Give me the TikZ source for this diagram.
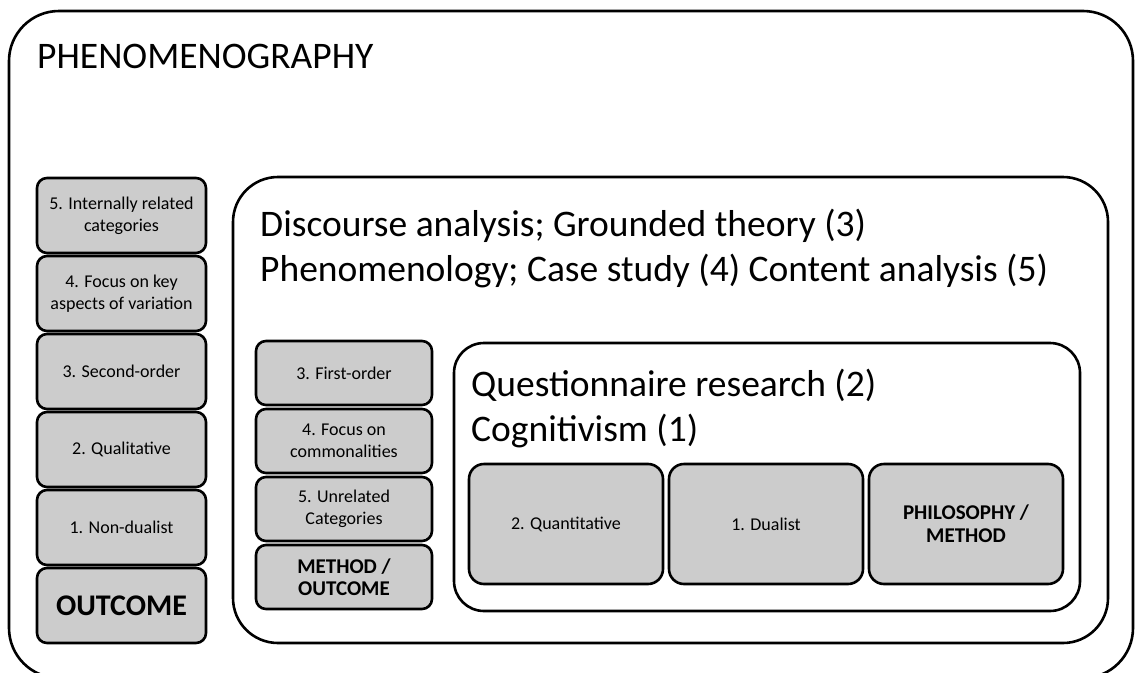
\documentclass[tikz,border=0pt]{standalone}
\usepackage{fontspec}
\setmainfont{Carlito}
\definecolor{boxgray}{RGB}{204,204,204}
\begin{document}
\begin{tikzpicture}[x=1pt,y=-1pt,
  cell/.style={draw=black, line width=2.6pt, fill=boxgray, rounded corners=10pt,
    align=center, font=\fontsize{18}{22}\selectfont, inner sep=2pt},
  leftcell/.style={cell, minimum width=169pt, minimum height=75pt},
  midcell/.style={cell, minimum width=176pt, minimum height=64pt},
  bigcell/.style={cell, rounded corners=15pt, minimum width=194pt, minimum height=120pt},
  boldsmall/.style={font=\fontsize{21}{22}\selectfont\bfseries},
  frame/.style={draw=black, line width=2.6pt, rounded corners=#1},
  bigtext/.style={font=\fontsize{37.5}{45}\selectfont, align=left, inner sep=0pt, anchor=north west},
]
\path[use as bounding box] (0,0) rectangle (1135,672);
\clip (0,0) rectangle (1135,672);

% frames
\draw[frame=50pt] (9,11) rectangle (1133,678);
\draw[frame=45pt] (233,177) rectangle (1108,643);
\draw[frame=30pt] (454,343) rectangle (1080,611);

% titles
\node[bigtext] (title) at (37,44) {PHENOMENOGRAPHY};
\node[bigtext] (midtext) at (260,209) {Discourse analysis; Grounded theory (3)\\Phenomenology; Case study (4) Content analysis (5)};
\node[bigtext] (innertext) at (471,369) {Questionnaire research (2)\\Cognitivism (1)};

% left column
\node[leftcell] (l5) at (121.5,215.5) {5. Internally related\\categories};
\node[leftcell] (l4) at (121.5,293.5) {4. Focus on key\\aspects of variation};
\node[leftcell] (l3) at (121.5,371.5) {3. Second-order};
\node[leftcell] (l2) at (121.5,449.5) {2. Qualitative};
\node[leftcell] (l1) at (121.5,527.5) {1. Non-dualist};
\node[leftcell, font=\fontsize{30}{32}\selectfont\bfseries] (lout) at (121.5,605.5) {OUTCOME};

% middle column
\node[midcell] (m3) at (344,373) {3. First-order};
\node[midcell] (m4) at (344,441) {4. Focus on\\commonalities};
\node[midcell] (m5) at (344,509) {5. Unrelated\\Categories};
\node[midcell, boldsmall] (mout) at (344,577) {METHOD /\\OUTCOME};

% bottom row
\node[bigcell] (b2) at (566,524) {2. Quantitative};
\node[bigcell] (b1) at (766,524) {1. Dualist};
\node[bigcell, font=\fontsize{21}{23}\selectfont\bfseries] (bph) at (966,524) {PHILOSOPHY /\\METHOD};
\end{tikzpicture}
\end{document}
